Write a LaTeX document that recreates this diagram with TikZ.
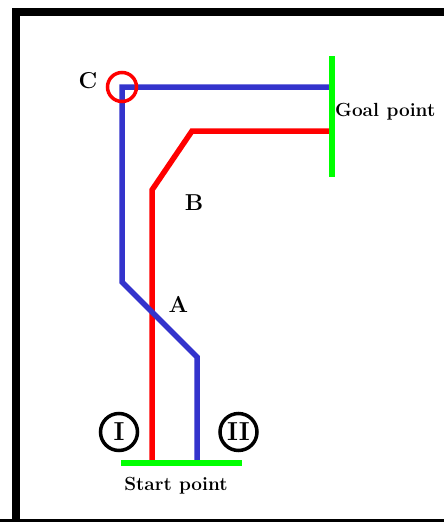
\documentclass[tikz,border=0pt]{standalone}
\begin{document}
\begin{tikzpicture}[x=1pt,y=-1pt,
  route/.style={line width=5.5pt},
  bluepath/.style={route,draw={rgb,255:red,51;green,51;blue,204}},
  redpath/.style={route,draw=red},
  limit/.style={line width=5.5pt,draw={rgb,255:red,0;green,255;blue,0}},
  letter/.style={font=\fontsize{23}{26}\selectfont\bfseries,inner sep=0pt},
  caption/.style={font=\fontsize{19}{22}\selectfont\bfseries,inner sep=0pt},
  roman/.style={circle,draw=black,line width=3.5pt,minimum size=37pt,inner sep=0pt,font=\fontsize{26}{28}\selectfont\bfseries}]
\useasboundingbox (0,0) rectangle (444,522);
\draw[line width=8pt,line join=miter] (16,540) -- (16,11.5) -- (470,11.5);
\draw[line width=8pt] (0,523) -- (470,523);
% coordinates
\coordinate (b0) at (197,461);
\coordinate (b1) at (197,357);
\coordinate (b2) at (122,282);
\coordinate (b3) at (122,87);
\coordinate (b4) at (330,87);
\coordinate (r0) at (152,461);
\coordinate (r1) at (152,190);
\coordinate (r2) at (192,131);
\coordinate (r3) at (330,131);
\coordinate (s0) at (121,463);
\coordinate (s1) at (242,463);
\coordinate (g0) at (332,56);
\coordinate (g1) at (332,177);
% routes
\draw[redpath] (r0) -- (r1) -- (r2) -- (r3);
\draw[bluepath] (b0) -- (b1) -- (b2) -- (b3) -- (b4);
\draw[limit] (s0) -- (s1);
\draw[limit] (g0) -- (g1);
\draw[red,line width=3.5pt] (b3) circle[radius=14.5pt];
% labels
\node[letter] (C) at (88,81) {C};
\node[letter] (B) at (194,203) {B};
\node[letter] (A) at (178.5,304) {A};
\node[caption,anchor=west] (goal) at (335,112) {Goal\hspace{0.4em}point};
\node[caption] (start) at (176,486) {Start point};
\node[roman] (I) at (119,432) {I};
\node[roman] (II) at (238.5,432) {II};
\end{tikzpicture}
\end{document}
